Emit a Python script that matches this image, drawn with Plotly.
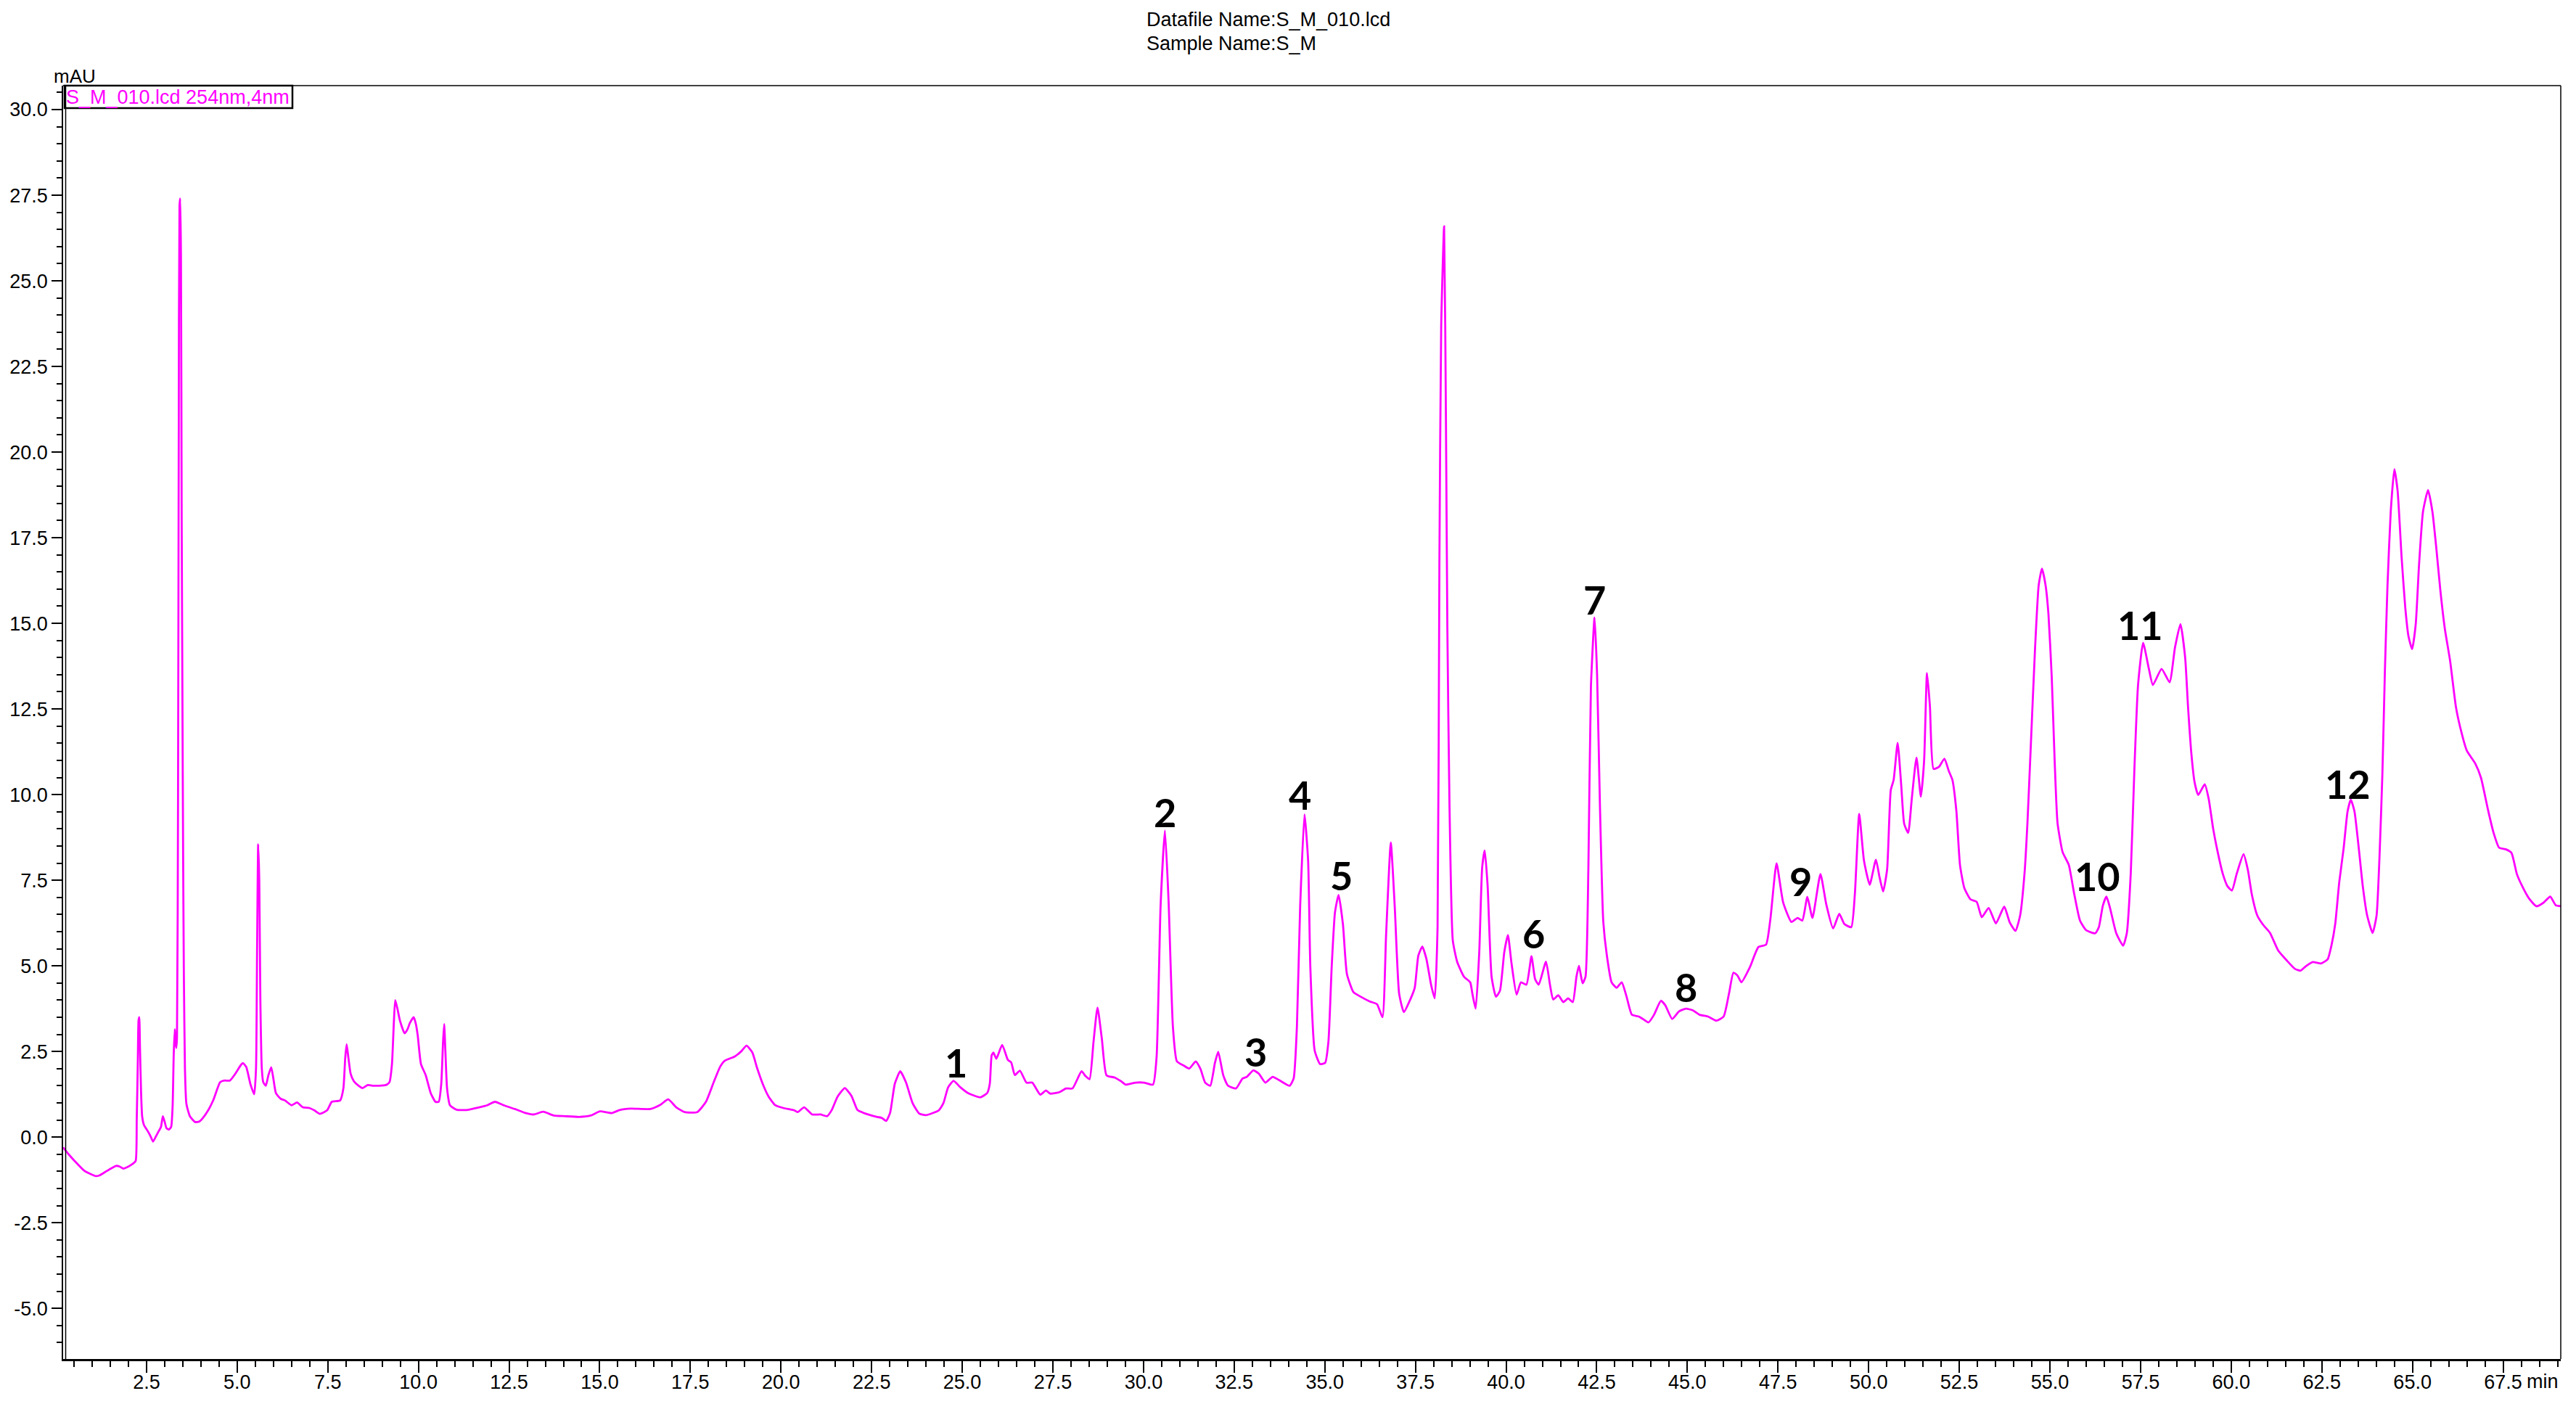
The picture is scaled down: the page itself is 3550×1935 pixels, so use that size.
import plotly.graph_objects as go

# ---- chromatogram trace (retention time in min, absorbance in mAU) ----
time_min = [
    0.20, 0.35, 0.52, 0.78, 1.00, 1.10, 1.20, 1.36, 1.50, 1.66, 1.76, 1.86, 2.00, 2.12, 2.20,
    2.23, 2.26, 2.28, 2.30, 2.32, 2.35, 2.38, 2.43, 2.53, 2.60, 2.68, 2.76, 2.84, 2.90, 2.95,
    3.00, 3.05, 3.12, 3.18, 3.22, 3.25, 3.28, 3.30, 3.32, 3.34, 3.37, 3.39, 3.41, 3.43, 3.45,
    3.47, 3.49, 3.51, 3.53, 3.56, 3.60, 3.70, 3.84, 3.95, 4.05, 4.20, 4.35, 4.53, 4.65, 4.80,
    4.95, 5.10, 5.16, 5.25, 5.37, 5.47, 5.52, 5.55, 5.58, 5.61, 5.64, 5.68, 5.72, 5.79, 5.86,
    5.94, 6.00, 6.07, 6.20, 6.32, 6.50, 6.65, 6.81, 6.99, 7.13, 7.28, 7.48, 7.61, 7.84, 7.93,
    7.98, 8.02, 8.07, 8.13, 8.22, 8.35, 8.46, 8.60, 8.73, 8.91, 9.10, 9.20, 9.27, 9.32, 9.36,
    9.42, 9.49, 9.62, 9.70, 9.76, 9.87, 9.93, 9.98, 10.07, 10.20, 10.34, 10.47, 10.56, 10.63, 10.68,
    10.71, 10.74, 10.79, 10.87, 11.05, 11.32, 11.68, 11.90, 12.11, 12.35, 12.66, 12.93, 13.18, 13.44, 13.73,
    14.04, 14.43, 14.75, 15.01, 15.33, 15.55, 15.86, 16.40, 16.67, 16.89, 17.11, 17.34, 17.69, 17.93, 18.14,
    18.32, 18.45, 18.72, 18.90, 19.05, 19.21, 19.34, 19.52, 19.66, 19.84, 20.06, 20.37, 20.46, 20.64, 20.86,
    21.09, 21.27, 21.40, 21.56, 21.76, 21.94, 22.11, 22.29, 22.65, 22.78, 22.90, 23.01, 23.14, 23.29, 23.45,
    23.63, 23.81, 23.99, 24.35, 24.48, 24.61, 24.76, 24.95, 25.15, 25.33, 25.50, 25.69, 25.76, 25.81, 25.86,
    25.94, 26.10, 26.26, 26.35, 26.45, 26.59, 26.77, 26.93, 27.15, 27.31, 27.42, 27.68, 27.86, 28.04, 28.29,
    28.40, 28.51, 28.62, 28.73, 28.85, 28.98, 29.20, 29.38, 29.51, 29.78, 30.01, 30.26, 30.36, 30.47, 30.59,
    30.69, 30.81, 30.92, 31.12, 31.26, 31.44, 31.57, 31.70, 31.84, 31.97, 32.06, 32.20, 32.33, 32.55, 32.73,
    32.85, 33.03, 33.18, 33.36, 33.56, 33.76, 34.03, 34.14, 34.23, 34.32, 34.44, 34.54, 34.60, 34.72, 34.87,
    35.01, 35.10, 35.19, 35.28, 35.38, 35.50, 35.61, 35.79, 35.97, 36.24, 36.44, 36.59, 36.69, 36.82, 36.93,
    37.05, 37.18, 37.35, 37.48, 37.58, 37.69, 37.80, 37.93, 38.03, 38.11, 38.16, 38.21, 38.29, 38.34, 38.38,
    38.44, 38.53, 38.65, 38.84, 39.01, 39.07, 39.16, 39.26, 39.34, 39.41, 39.49, 39.60, 39.72, 39.83, 39.95,
    40.05, 40.15, 40.29, 40.41, 40.56, 40.70, 40.80, 40.90, 41.10, 41.21, 41.30, 41.44, 41.58, 41.71, 41.84,
    41.94, 42.01, 42.11, 42.19, 42.27, 42.34, 42.44, 42.51, 42.59, 42.68, 42.78, 42.91, 43.05, 43.19, 43.32,
    43.47, 43.66, 43.77, 43.93, 44.08, 44.27, 44.39, 44.58, 44.77, 44.96, 45.15, 45.34, 45.57, 45.80, 46.00,
    46.15, 46.27, 46.38, 46.49, 46.72, 46.96, 47.17, 47.29, 47.46, 47.64, 47.87, 48.04, 48.17, 48.31, 48.45,
    48.67, 48.83, 49.02, 49.19, 49.33, 49.52, 49.62, 49.74, 49.87, 50.03, 50.20, 50.30, 50.40, 50.51, 50.61,
    50.69, 50.80, 50.90, 50.98, 51.09, 51.19, 51.32, 51.44, 51.53, 51.61, 51.69, 51.79, 51.94, 52.09, 52.21,
    52.31, 52.42, 52.52, 52.64, 52.81, 52.98, 53.12, 53.31, 53.51, 53.74, 53.89, 54.05, 54.18, 54.30, 54.38,
    54.47, 54.59, 54.69, 54.78, 54.88, 54.96, 55.05, 55.13, 55.21, 55.35, 55.52, 55.67, 55.83, 56.00, 56.25,
    56.35, 56.46, 56.56, 56.66, 56.83, 57.02, 57.12, 57.23, 57.33, 57.43, 57.57, 57.73, 57.84, 58.08, 58.30,
    58.45, 58.60, 58.73, 58.81, 58.89, 58.99, 59.09, 59.27, 59.38, 59.50, 59.61, 59.77, 59.90, 60.02, 60.15,
    60.34, 60.46, 60.57, 60.72, 60.88, 61.07, 61.30, 61.53, 61.76, 61.91, 62.06, 62.25, 62.48, 62.66, 62.77,
    62.87, 62.98, 63.10, 63.21, 63.30, 63.40, 63.52, 63.63, 63.75, 63.90, 64.01, 64.09, 64.17, 64.24, 64.31,
    64.40, 64.50, 64.59, 64.70, 64.80, 64.89, 64.99, 65.09, 65.18, 65.29, 65.43, 65.55, 65.66, 65.77, 65.89,
    66.04, 66.20, 66.35, 66.50, 66.73, 66.89, 67.08, 67.23, 67.39, 67.58, 67.73, 67.88, 68.03, 68.22, 68.42,
    68.61, 68.80, 68.95, 69.09,
]
absorbance_mau = [
    -0.30, -0.50, -0.70, -0.98, -1.10, -1.14, -1.12, -1.02, -0.93, -0.84, -0.86, -0.92, -0.86, -0.78, -0.70,
    0.50, 2.20, 3.40, 3.50, 2.60, 1.30, 0.60, 0.35, 0.18, 0.05, -0.13, 0.02, 0.18, 0.30, 0.61,
    0.45, 0.26, 0.22, 0.30, 0.90, 2.40, 3.15, 2.80, 2.60, 2.90, 10.0, 20.8, 27.2, 27.4, 25.7,
    18.0, 12.9, 8.2, 4.75, 2.00, 0.97, 0.60, 0.44, 0.45, 0.55, 0.78, 1.10, 1.60, 1.65, 1.65,
    1.85, 2.10, 2.16, 2.05, 1.53, 1.25, 2.00, 5.50, 8.55, 7.50, 4.00, 2.00, 1.60, 1.50, 1.80,
    2.04, 1.70, 1.28, 1.12, 1.07, 0.93, 1.01, 0.87, 0.85, 0.78, 0.68, 0.78, 1.03, 1.07, 1.42,
    2.30, 2.71, 2.30, 1.85, 1.63, 1.50, 1.43, 1.52, 1.50, 1.50, 1.52, 1.60, 2.13, 3.30, 4.00,
    3.75, 3.40, 3.03, 3.15, 3.32, 3.50, 3.30, 2.97, 2.13, 1.81, 1.28, 1.03, 1.03, 1.56, 2.80,
    3.30, 2.60, 1.42, 0.93, 0.80, 0.79, 0.87, 0.93, 1.03, 0.93, 0.82, 0.71, 0.66, 0.74, 0.63,
    0.61, 0.59, 0.63, 0.75, 0.70, 0.79, 0.83, 0.82, 0.94, 1.10, 0.87, 0.73, 0.73, 1.03, 1.59,
    2.05, 2.23, 2.35, 2.50, 2.67, 2.47, 2.02, 1.49, 1.18, 0.93, 0.85, 0.78, 0.73, 0.87, 0.66,
    0.66, 0.61, 0.79, 1.18, 1.43, 1.21, 0.79, 0.70, 0.59, 0.56, 0.47, 0.71, 1.56, 1.92, 1.59,
    0.99, 0.69, 0.64, 0.78, 0.99, 1.45, 1.64, 1.45, 1.29, 1.21, 1.16, 1.29, 1.56, 2.38, 2.47,
    2.29, 2.69, 2.25, 2.18, 1.81, 1.94, 1.59, 1.59, 1.24, 1.36, 1.27, 1.31, 1.42, 1.42, 1.92,
    1.78, 1.69, 2.78, 3.78, 2.87, 1.80, 1.74, 1.63, 1.53, 1.59, 1.59, 1.53, 2.34, 6.74, 8.95,
    6.91, 3.22, 2.21, 2.08, 2.00, 2.21, 1.99, 1.59, 1.50, 2.17, 2.49, 1.80, 1.50, 1.42, 1.71,
    1.76, 1.95, 1.85, 1.59, 1.76, 1.65, 1.50, 1.71, 3.22, 6.74, 9.42, 8.06, 4.98, 2.53, 2.13,
    2.17, 2.79, 4.98, 6.56, 7.07, 6.21, 4.76, 4.23, 4.11, 3.96, 3.88, 3.50, 5.90, 8.60, 6.70,
    4.19, 3.65, 4.00, 4.36, 5.30, 5.56, 5.21, 4.45, 4.05, 6.12, 16.66, 23.69, 26.59, 21.05, 14.88,
    9.61, 5.74, 5.12, 4.68, 4.52, 4.19, 3.75, 5.40, 7.87, 8.37, 7.35, 4.68, 4.10, 4.27, 5.40,
    5.90, 5.07, 4.16, 4.52, 4.45, 5.28, 4.61, 4.45, 5.12, 4.45, 4.02, 4.14, 3.94, 4.05, 3.94,
    4.68, 5.00, 4.49, 4.68, 7.87, 13.15, 15.17, 13.50, 9.61, 6.30, 5.30, 4.52, 4.36, 4.52, 4.11,
    3.57, 3.52, 3.45, 3.35, 3.57, 3.98, 3.85, 3.45, 3.67, 3.75, 3.70, 3.57, 3.52, 3.40, 3.52,
    4.20, 4.80, 4.72, 4.52, 4.95, 5.55, 5.62, 6.37, 7.99, 6.86, 6.28, 6.40, 6.32, 7.01, 6.40,
    7.68, 6.80, 6.09, 6.52, 6.22, 6.13, 7.10, 9.44, 8.08, 7.37, 8.10, 7.59, 7.17, 7.82, 10.13,
    10.43, 11.51, 10.25, 9.15, 8.88, 9.88, 11.08, 9.94, 10.99, 13.55, 12.58, 10.75, 10.81, 11.05, 10.69,
    10.43, 9.52, 7.94, 7.27, 6.94, 6.87, 6.42, 6.69, 6.24, 6.73, 6.27, 6.02, 6.48, 7.71, 9.17,
    11.36, 14.28, 16.11, 16.60, 16.11, 15.26, 13.43, 11.00, 9.17, 8.32, 7.95, 7.10, 6.32, 6.04, 5.95,
    6.13, 6.76, 7.02, 6.68, 5.95, 5.59, 5.95, 7.71, 10.75, 13.19, 14.43, 13.67, 13.20, 13.67, 13.28,
    14.30, 14.98, 14.00, 12.55, 11.33, 10.36, 9.99, 10.30, 9.87, 9.02, 8.41, 7.68, 7.32, 7.20, 7.68,
    8.26, 7.80, 7.08, 6.47, 6.20, 5.96, 5.44, 5.16, 4.91, 4.86, 4.99, 5.11, 5.07, 5.19, 5.62,
    6.23, 7.44, 8.42, 9.51, 9.85, 9.51, 8.42, 7.32, 6.47, 5.96, 6.47, 8.17, 10.60, 13.64, 16.07,
    18.26, 19.50, 18.87, 16.93, 15.47, 14.62, 14.25, 14.98, 16.69, 18.26, 18.89, 18.26, 17.17, 15.95, 14.86,
    13.89, 12.55, 11.82, 11.28, 10.91, 10.49, 9.57, 8.91, 8.45, 8.40, 8.30, 7.68, 7.32, 6.96, 6.74,
    6.84, 7.02, 6.77, 6.74,
]

# ---- numbered peak labels ----
peak_labels = ["1", "2", "3", "4", "5", "6", "7", "8", "9", "10", "11", "12"]
peak_label_time = [24.83, 30.59, 33.09, 34.31, 35.45, 40.75, 42.45, 44.97, 48.13, 56.31, 57.49, 63.21]
peak_label_mau = [2.18, 9.49, 2.50, 10.00, 7.63, 5.95, 15.70, 4.37, 7.46, 7.61, 14.94, 10.30]

# ---- axis ticks ----
x_tick_values = [2.5 * k for k in range(1, 28)]
x_tick_text = [f"{v:.1f}" for v in x_tick_values]
y_tick_values = [2.5 * k for k in range(-2, 13)]
y_tick_text = [f"{v:.1f}" for v in y_tick_values]

TRACE_COLOR = "#FF00FF"
FONT = "Liberation Sans, Arial, sans-serif"

# The page body has an 8 px default margin: the figure is laid out so that
# the plot frame lands at page pixels x 87..3529, y 118..1873.
OFF = 8
W, H = 3534, 1919
L, T = 87 - OFF, 118 - OFF
R = (OFF + W) - 3529
B = (OFF + H) - 1873
PW, PH = W - L - R, H - T - B


def px_x(page_px):
    return (page_px - OFF - L) / PW


def px_y(page_py):
    return (H - B - (page_py - OFF)) / PH


fig = go.Figure()
fig.add_trace(go.Scatter(
    x=time_min, y=absorbance_mau, mode="lines",
    line=dict(color=TRACE_COLOR, width=2.8, shape="spline", smoothing=0.5),
    name="S_M_010.lcd 254nm,4nm", showlegend=False, hoverinfo="x+y",
))

for lab, tx, ty in zip(peak_labels, peak_label_time, peak_label_mau):
    fig.add_annotation(x=tx, y=ty, xref="x", yref="y", text=f"<b>{lab}</b>",
                       showarrow=False, xanchor="center", yanchor="middle",
                       font=dict(family="Lato, Open Sans, sans-serif", size=54, color="black"))

# header text
fig.add_annotation(x=px_x(1578), y=px_y(27), xref="paper", yref="paper",
                   text="Datafile Name:S_M_010.lcd", showarrow=False,
                   xanchor="left", yanchor="middle", font=dict(family=FONT, size=27, color="black"))
fig.add_annotation(x=px_x(1578), y=px_y(60), xref="paper", yref="paper",
                   text="Sample Name:S_M", showarrow=False,
                   xanchor="left", yanchor="middle", font=dict(family=FONT, size=27, color="black"))
# y unit
fig.add_annotation(x=px_x(103), y=px_y(105), xref="paper", yref="paper",
                   text="mAU", showarrow=False, xanchor="center", yanchor="middle",
                   font=dict(family=FONT, size=26, color="black"))
# "min" unit after last x tick label
fig.add_annotation(x=px_x(3480), y=px_y(1904), xref="paper", yref="paper",
                   text="min", showarrow=False, xanchor="left", yanchor="middle",
                   font=dict(family=FONT, size=27, color="black"))
# legend-like box
fig.add_shape(type="rect", xref="paper", yref="paper",
              x0=px_x(89), x1=px_x(403), y0=px_y(149), y1=px_y(118),
              line=dict(color="black", width=2.5), fillcolor="rgba(0,0,0,0)")
fig.add_annotation(x=px_x(89), y=px_y(134), xref="paper", yref="paper",
                   text="S_M_010.lcd 254nm,4nm", showarrow=False,
                   xanchor="left", yanchor="middle",
                   font=dict(family=FONT, size=27, color=TRACE_COLOR))
# frame: top, right, second left line
fig.add_shape(type="line", xref="paper", yref="paper", x0=0, x1=1, y0=1, y1=1,
              line=dict(color="black", width=1.5))
fig.add_shape(type="line", xref="paper", yref="paper", x0=1, x1=1, y0=0, y1=1,
              line=dict(color="black", width=1.5))
fig.add_shape(type="line", xref="paper", yref="paper", x0=px_x(90.5), x1=px_x(90.5), y0=0, y1=1,
              line=dict(color="black", width=1.5))

fig.update_layout(
    width=W, height=H,
    margin=dict(l=L, r=R, t=T, b=B, pad=0),
    paper_bgcolor="white", plot_bgcolor="white",
    font=dict(family=FONT, size=27, color="black"),
    showlegend=False,
    xaxis=dict(
        range=[0.2, 69.09], showgrid=False, zeroline=False, automargin=False,
        showline=True, linecolor="black", linewidth=3,
        tickmode="array", tickvals=x_tick_values, ticktext=x_tick_text,
        ticks="outside", ticklen=16, tickwidth=2, tickcolor="black",
        ticklabelstandoff=-10,
        tickfont=dict(family=FONT, size=27, color="black"),
        minor=dict(tickmode="linear", tick0=0, dtick=0.5, ticks="outside",
                   ticklen=8, tickwidth=2, tickcolor="black", showgrid=False),
    ),
    yaxis=dict(
        range=[-6.48, 30.7], showgrid=False, zeroline=False, automargin=False,
        showline=True, linecolor="black", linewidth=1.5,
        tickmode="array", tickvals=y_tick_values, ticktext=y_tick_text,
        ticks="outside", ticklen=14, tickwidth=2, tickcolor="black",
        tickfont=dict(family=FONT, size=27, color="black"),
        minor=dict(tickmode="linear", tick0=0, dtick=0.5, ticks="outside",
                   ticklen=7, tickwidth=2, tickcolor="black", showgrid=False),
    ),
)

fig.write_html("out.html")
